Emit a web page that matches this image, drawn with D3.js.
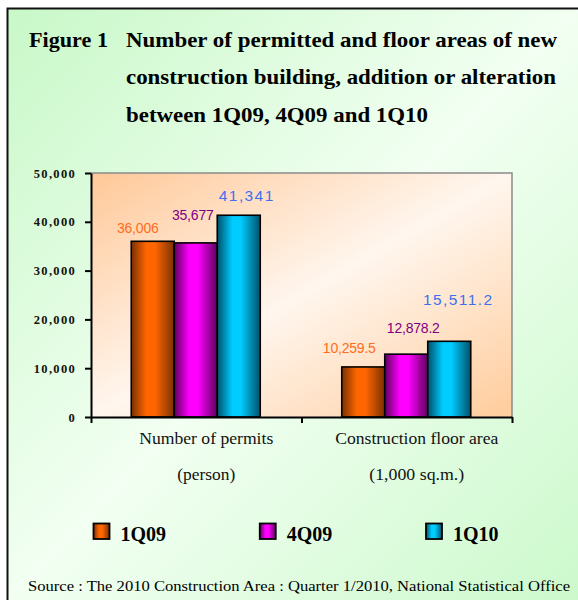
<!DOCTYPE html>
<html>
<head>
<meta charset="utf-8">
<script src="https://cdn.jsdelivr.net/npm/d3@7"></script>
<style>
	body { margin: 0; background: #fff; }
	svg { display: block; }
</style>
</head>
<body>
<svg id="chart" width="578" height="600"></svg>
<script>
// values
var categories = ["Number of permits", "Construction floor area"];
var categoryUnits = ["(person)", "(1,000 sq.m.)"];
var seriesNames = ["1Q09", "4Q09", "1Q10"];
var permits = [36006, 35677, 41341];
var floorArea = [10259.5, 12878.2, 15511.2];
var yTicks = [0, 10000, 20000, 30000, 40000, 50000];

var width = 578,
	height = 600,
	plot = { left: 91, right: 512, top: 173, bottom: 417 };

var serif = "'Liberation Serif', 'Times New Roman', serif";

var palette = {
	"1Q09": { dark: "#7a3000", light: "#ff6600", label: "#ff6d1a" },
	"4Q09": { dark: "#5c005c", light: "#ff00ff", label: "#800080" },
	"1Q10": { dark: "#00506a", light: "#00ccff", label: "#3f6ff0" }
};

// hand placed labels in the original, nudged per bar [dx, dy]
var labelNudge = {
	"1Q09": [[-15, 8], [-14, 14]],
	"4Q09": [[-3, 23], [7, 21]],
	"1Q10": [[8, 14], [9, 36]]
};

var rows = categories.map(function(c, i){
	return {
		category: c,
		unit: categoryUnits[i],
		fmt: i === 0 ? d3.format(",") : d3.format(",.1f"),
		values: seriesNames.map(function(s, j){
			return { series: s, value: (i === 0 ? permits : floorArea)[j], ci: i };
		})
	};
});

var svg = d3.select("#chart");
var defs = svg.append("defs");

var bg = defs.append("linearGradient").attr("id", "bgGrad")
	.attr("x1", 0).attr("y1", 0).attr("x2", 1).attr("y2", 1);
bg.append("stop").attr("offset", "0%").attr("stop-color", "#c8f8c8");
bg.append("stop").attr("offset", "50%").attr("stop-color", "#f2fff2");
bg.append("stop").attr("offset", "100%").attr("stop-color", "#ccf9cc");

var pg = defs.append("linearGradient").attr("id", "plotGrad")
	.attr("x1", 0).attr("y1", 0).attr("x2", 1).attr("y2", 1);
pg.append("stop").attr("offset", "0%").attr("stop-color", "#ffc898");
pg.append("stop").attr("offset", "50%").attr("stop-color", "#fff6ee");
pg.append("stop").attr("offset", "100%").attr("stop-color", "#ffcc9c");

seriesNames.forEach(function(s, i){
	var g = defs.append("linearGradient").attr("id", "barGrad" + i)
		.attr("x1", 0).attr("y1", 0).attr("x2", 1).attr("y2", 0);
	g.append("stop").attr("offset", "0%").attr("stop-color", palette[s].dark);
	g.append("stop").attr("offset", "35%").attr("stop-color", palette[s].light);
	g.append("stop").attr("offset", "55%").attr("stop-color", palette[s].light);
	g.append("stop").attr("offset", "100%").attr("stop-color", palette[s].dark);
});

// page background and frame
svg.append("rect")
	.attr("x", 7).attr("y", 8)
	.attr("width", width - 7).attr("height", height - 8)
	.attr("fill", "url(#bgGrad)");
svg.append("path")
	.attr("d", "M7.5," + height + "V8.5H" + width)
	.attr("fill", "none")
	.attr("stroke", "#111")
	.attr("stroke-width", 2);

// title (the original type is a bit wider than Times, so each line is fitted)
var title = svg.append("g")
	.attr("font-family", serif)
	.attr("font-weight", "bold")
	.attr("font-size", 21.5)
	.attr("fill", "#000");
title.append("text")
	.attr("x", 29).attr("y", 47)
	.attr("textLength", 79).attr("lengthAdjust", "spacingAndGlyphs")
	.text("Figure 1");
[
	["Number of permitted and floor areas of new", 431],
	["construction building, addition or alteration", 430],
	["between 1Q09, 4Q09 and 1Q10", 302]
].forEach(function(t, i){
	title.append("text")
		.attr("x", 126)
		.attr("y", 47 + i * 37.3)
		.attr("textLength", t[1])
		.attr("lengthAdjust", "spacingAndGlyphs")
		.text(t[0]);
});

// scales
var x0 = d3.scaleBand()
	.domain(categories)
	.range([plot.left, plot.right]);

var x1 = d3.scaleBand()
	.domain(seriesNames)
	.range([x0.bandwidth() / 2 - 65, x0.bandwidth() / 2 + 64]);

var y = d3.scaleLinear()
	.domain([0, 50000])
	.range([plot.bottom, plot.top]);

var edges = d3.scaleLinear()
	.domain([0, categories.length])
	.range([plot.left, plot.right]);

// plot area
svg.append("rect")
	.attr("x", plot.left).attr("y", plot.top)
	.attr("width", plot.right - plot.left)
	.attr("height", plot.bottom - plot.top)
	.attr("fill", "url(#plotGrad)");
svg.append("path")
	.attr("d", "M" + plot.left + "," + plot.top + "H" + plot.right + "V" + plot.bottom)
	.attr("fill", "none")
	.attr("stroke", "#8a8a8a")
	.attr("stroke-width", 1.5);

// bars
var group = svg.append("g").selectAll(".cat")
	.data(rows)
	.enter().append("g")
	.attr("class", "cat")
	.attr("transform", function(d){
		return "translate(" + x0(d.category) + ",0)";
	});

group.selectAll("rect")
	.data(function(d){ return d.values; })
	.enter().append("rect")
	.attr("x", function(d){ return x1(d.series); })
	.attr("y", function(d){ return y(d.value); })
	.attr("width", x1.bandwidth())
	.attr("height", function(d){ return plot.bottom - y(d.value); })
	.attr("fill", function(d){ return "url(#barGrad" + seriesNames.indexOf(d.series) + ")"; })
	.attr("stroke", "#000")
	.attr("stroke-width", 1.6);

group.selectAll("text.val")
	.data(function(d){
		return d.values.map(function(v){ return { v: v, fmt: d.fmt }; });
	})
	.enter().append("text")
	.attr("class", "val")
	.attr("x", function(d){
		return x1(d.v.series) + x1.bandwidth() / 2 + labelNudge[d.v.series][d.v.ci][0];
	})
	.attr("y", function(d){
		return y(d.v.value) - labelNudge[d.v.series][d.v.ci][1];
	})
	.attr("text-anchor", "middle")
	.attr("font-family", "'Liberation Sans', Arial, sans-serif")
	.attr("font-size", function(d){ return d.v.series === "1Q10" ? 15.5 : 14; })
	.attr("letter-spacing", function(d){ return d.v.series === "1Q10" ? 1.4 : -0.2; })
	.attr("fill", function(d){ return palette[d.v.series].label; })
	.text(function(d){ return d.fmt(d.v.value); });

// axes
var yAxis = d3.axisLeft(y)
	.tickValues(yTicks)
	.tickFormat(d3.format(","))
	.tickSize(6)
	.tickSizeOuter(0)
	.tickPadding(9);

var yg = svg.append("g")
	.attr("class", "y axis")
	.attr("transform", "translate(" + plot.left + ",0)")
	.call(yAxis);
yg.select(".domain").attr("stroke", "#000").attr("stroke-width", 2);
yg.selectAll(".tick line").attr("stroke", "#000").attr("stroke-width", 2);
yg.selectAll(".tick text")
	.attr("font-family", serif)
	.attr("font-weight", "bold")
	.attr("font-size", 12.5)
	.attr("letter-spacing", 1.3)
	.attr("fill", "#111");

var xAxis = d3.axisBottom(edges)
	.tickValues(d3.range(categories.length + 1))
	.tickFormat("")
	.tickSize(6)
	.tickSizeOuter(0);

var xg = svg.append("g")
	.attr("class", "x axis")
	.attr("transform", "translate(0," + plot.bottom + ")")
	.call(xAxis);
xg.select(".domain").attr("stroke", "#000").attr("stroke-width", 2);
xg.selectAll(".tick line").attr("stroke", "#000").attr("stroke-width", 2);

// category labels, fitted to the widths in the original
var catWidths = [[134, 58], [163, 95]];
var catLabels = svg.append("g")
	.attr("font-family", serif)
	.attr("font-size", 16.5)
	.attr("fill", "#111")
	.attr("text-anchor", "middle");

rows.forEach(function(d, i){
	var cx = x0(d.category) + x0.bandwidth() / 2 + 10;
	catLabels.append("text").attr("x", cx).attr("y", 444)
		.attr("textLength", catWidths[i][0]).attr("lengthAdjust", "spacingAndGlyphs")
		.text(d.category);
	catLabels.append("text").attr("x", cx).attr("y", 480)
		.attr("textLength", catWidths[i][1]).attr("lengthAdjust", "spacingAndGlyphs")
		.text(d.unit);
});

// legend
var legendX = d3.scalePoint()
	.domain(seriesNames)
	.range([93.5, 426]);

var legend = svg.append("g").selectAll(".legend")
	.data(seriesNames)
	.enter().append("g")
	.attr("class", "legend")
	.attr("transform", function(d){
		return "translate(" + legendX(d) + ",523.5)";
	});

legend.append("rect")
	.attr("width", 16)
	.attr("height", 15.5)
	.attr("fill", function(d, i){ return "url(#barGrad" + i + ")"; })
	.attr("stroke", "#000")
	.attr("stroke-width", 1.8);

legend.append("text")
	.attr("x", 27)
	.attr("y", 17)
	.attr("font-family", serif)
	.attr("font-weight", "bold")
	.attr("font-size", 20)
	.attr("fill", "#000")
	.text(function(d){ return d; });

// source
svg.append("text")
	.attr("x", 28)
	.attr("y", 591)
	.attr("font-family", serif)
	.attr("font-size", 15.5)
	.attr("fill", "#000")
	.attr("textLength", 542)
	.attr("lengthAdjust", "spacingAndGlyphs")
	.text("Source : The 2010 Construction Area : Quarter 1/2010, National Statistical  Office");
</script>
</body>
</html>
